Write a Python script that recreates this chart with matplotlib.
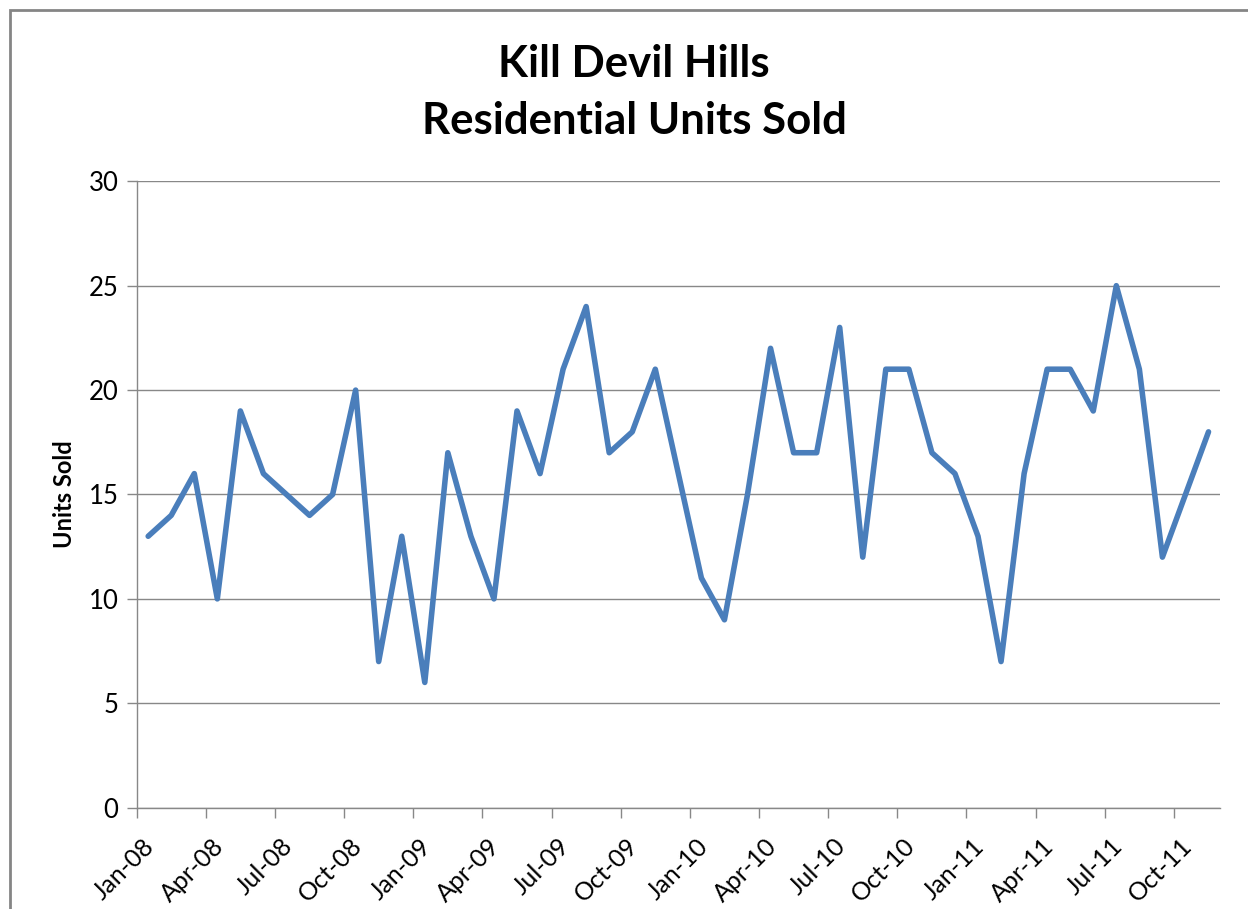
import matplotlib
matplotlib.use("Agg")
import matplotlib.pyplot as plt
import matplotlib.transforms as mtransforms
from matplotlib.patches import Rectangle

# monthly residential units sold, Jan-08 .. Nov-11
units_sold = [13, 14, 16, 10, 19, 16, 15, 14, 15, 20, 7, 13,
              6, 17, 13, 10, 19, 16, 21, 24, 17, 18, 21, 16,
              11, 9, 15, 22, 17, 17, 23, 12, 21, 21, 17, 16,
              13, 7, 16, 21, 21, 19, 25, 21, 12, 15, 18]
tick_labels = ["Jan-08", "Apr-08", "Jul-08", "Oct-08",
               "Jan-09", "Apr-09", "Jul-09", "Oct-09",
               "Jan-10", "Apr-10", "Jul-10", "Oct-10",
               "Jan-11", "Apr-11", "Jul-11", "Oct-11"]
y_ticks = [0, 5, 10, 15, 20, 25, 30]

plt.rcParams["font.family"] = ["Lato", "DejaVu Sans"]
gray = "#888888"

fig = plt.figure(figsize=(12.48, 9.09), dpi=100)
ax = fig.add_axes([0.1095, 0.1114, 0.8681, 0.6892])

months = [i + 0.5 for i in range(len(units_sold))]
ax.plot(months, units_sold, color="#4a7ebb", linewidth=4,
        solid_joinstyle="round", solid_capstyle="round")

ax.set_xlim(0, 47)
ax.set_ylim(0, 30)
ax.set_yticks(y_ticks)
ax.set_xticks([3 * k for k in range(len(tick_labels))])
ax.set_xticklabels(tick_labels, rotation=45, ha="right", va="center",
                   rotation_mode="anchor")
ax.tick_params(axis="x", length=7, width=1, color=gray, labelsize=18, pad=18)
ax.tick_params(axis="y", length=7, width=1, color=gray, labelsize=18.5, pad=6)

# shift rotated date labels to the right like the original
shift = mtransforms.ScaledTranslation(0.14, 0, fig.dpi_scale_trans)
for lbl in ax.get_xticklabels():
    lbl.set_transform(lbl.get_transform() + shift)

ax.grid(axis="y", color=gray, linewidth=1)
ax.set_axisbelow(True)
for side in ["top", "right"]:
    ax.spines[side].set_visible(False)
for side in ["left", "bottom"]:
    ax.spines[side].set_color(gray)
    ax.spines[side].set_linewidth(1)

ax.set_ylabel("Units Sold", fontsize=17, fontweight="bold", labelpad=9)

fig.text(0.508, 0.930, "Kill Devil Hills", ha="center", va="center",
         fontsize=31.5, fontweight="bold")
fig.text(0.508, 0.867, "Residential Units Sold", ha="center", va="center",
         fontsize=31.5, fontweight="bold")

# outer chart frame (only top and left edges are inside the picture)
fig.patches.append(Rectangle((10 / 1248, -0.2), 1.5, 1.2 - 10 / 909,
                             transform=fig.transFigure, fill=False,
                             edgecolor="#858585", linewidth=2))

fig.savefig("out.png", dpi=100)
